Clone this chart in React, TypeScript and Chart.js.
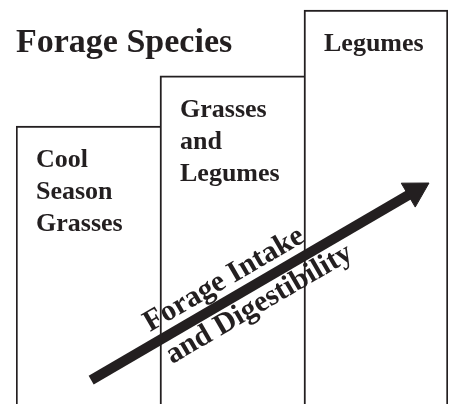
import React, { useEffect, useRef } from "react";
import { Chart, registerables } from "chart.js";

Chart.register(...registerables);

// ---- data ----
const title = "Forage Species";
const categories: string[][] = [
  ["Cool", "Season", "Grasses"],
  ["Grasses", "and", "Legumes"],
  ["Legumes"],
];
const intakeLevel = [68.8, 81.2, 97.5];
const arrowLabel = ["Forage Intake", "and Digestibility"];
const arrowX = [17.4, 92.4];
const arrowY = [5.9, 52.7];

// ---- styles ----
const INK = "#231f20";
const SERIF = '"Liberation Serif", "Times New Roman", serif';

const annotate = {
  id: "annotate",
  afterDatasetsDraw(chart: any) {
    const ctx = chart.ctx as CanvasRenderingContext2D;
    ctx.save();
    ctx.fillStyle = INK;
    ctx.textBaseline = "alphabetic";
    ctx.textAlign = "left";

    // title
    ctx.font = `bold 34px ${SERIF}`;
    ctx.fillText(title, 16, 52);

    // bar labels
    const meta = chart.getDatasetMeta(0);
    ctx.font = `bold 26px ${SERIF}`;
    meta.data.forEach((bar: any, i: number) => {
      const { x, y, width } = bar.getProps(["x", "y", "width"], true);
      const left = x - width / 2;
      categories[i].forEach((line, j) => {
        ctx.fillText(line, left + 20, y + 41 + j * 32);
      });
    });

    // arrow labels
    const am = chart.getDatasetMeta(1);
    const p0 = am.data[0];
    const p1 = am.data[1];
    const ang = Math.atan2(p1.y - p0.y, p1.x - p0.x);
    ctx.font = `bold 30px ${SERIF}`;
    const along = (text: string, a: number, off: number) => {
      ctx.save();
      ctx.translate(p0.x, p0.y);
      ctx.rotate(ang);
      ctx.fillText(text, a, off);
      ctx.restore();
    };
    along(arrowLabel[0], 75, -12);
    along(arrowLabel[1], 78, 27);
    ctx.restore();
  },
};

export default function App() {
  const ref = useRef<HTMLCanvasElement | null>(null);

  useEffect(() => {
    if (!ref.current) return;
    const rotation = (c: any) => {
      const xs = c.chart.scales.xa;
      const ys = c.chart.scales.y;
      if (!xs || !ys) return 60;
      const dx = xs.getPixelForValue(arrowX[1]) - xs.getPixelForValue(arrowX[0]);
      const dy = ys.getPixelForValue(arrowY[1]) - ys.getPixelForValue(arrowY[0]);
      return (Math.atan2(dy, dx) * 180) / Math.PI + 90;
    };
    const chart = new Chart(ref.current, {
      type: "bar",
      data: {
        labels: categories.map((c) => c.join(" ")),
        datasets: [
          {
            type: "bar",
            data: intakeLevel,
            backgroundColor: "#ffffff",
            borderColor: INK,
            borderWidth: (c: any) => ({
              top: 2,
              left: 2,
              right: c.dataIndex === categories.length - 1 ? 2 : 0,
              bottom: 0,
            }),
            borderSkipped: false,
            grouped: false,
            barPercentage: 1,
            categoryPercentage: 1,
            xAxisID: "x",
            yAxisID: "y",
            order: 2,
          } as any,
          {
            type: "line",
            data: arrowX.map((x, i) => ({ x, y: arrowY[i] })),
            xAxisID: "xa",
            yAxisID: "y",
            borderColor: INK,
            borderWidth: 10,
            borderCapStyle: "butt",
            tension: 0,
            pointRadius: [0, 16],
            pointHoverRadius: [0, 16],
            pointStyle: "triangle",
            pointRotation: rotation,
            pointBackgroundColor: INK,
            pointBorderColor: INK,
            pointBorderWidth: 1,
            order: 1,
            clip: false,
          } as any,
        ],
      },
      options: {
        responsive: false,
        animation: false,
        devicePixelRatio: 1,
        layout: { autoPadding: false, padding: { left: 16, right: 7, top: 0, bottom: 0 } },
        plugins: {
          legend: { display: false },
          tooltip: { enabled: false },
          title: { display: false },
        },
        scales: {
          x: { display: false },
          y: { display: false, min: 0, max: 100 },
          xa: { type: "linear", display: false, min: 0, max: 100, offset: false, grid: { offset: false } },
        },
      } as any,
      plugins: [annotate],
    });
    return () => chart.destroy();
  }, []);

  return (
    <div
      style={{
        position: "absolute",
        left: 0,
        top: 0,
        width: 455,
        height: 404,
        background: "#ffffff",
      }}
    >
      <canvas ref={ref} width={455} height={404} />
    </div>
  );
}
